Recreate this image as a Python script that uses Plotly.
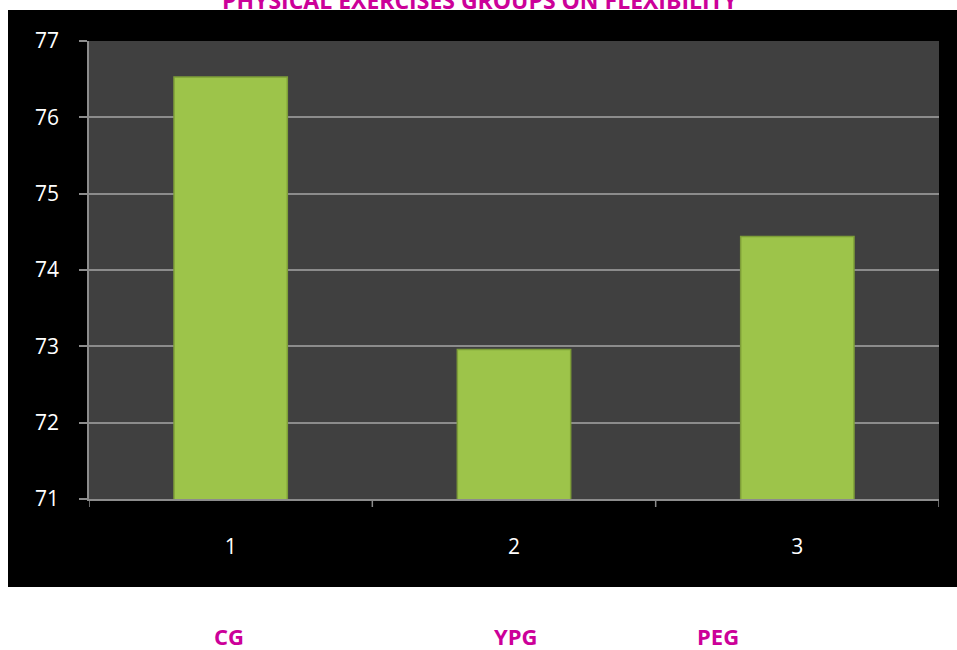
import plotly.graph_objects as go

categories = [1, 2, 3]
values = [76.53, 72.96, 74.44]
group_labels = ["CG", "YPG", "PEG"]
group_label_x = [229, 515, 718]
title_text = "PHYSICAL EXERCISES GROUPS ON FLEXIBILITY"
y_ticks = [71, 72, 73, 74, 75, 76, 77]

W, H = 957, 650
L, R, T, B = 89, 18, 41, 151
pw, ph = W - L - R, H - T - B

def px_x(x):
    return (x - L) / pw

def px_y(y):
    return (H - B - y) / ph

fig = go.Figure()
fig.add_trace(go.Bar(
    x=categories, y=values, width=0.4,
    marker=dict(color="#9DC44A", line=dict(color="#7E9E38", width=1.5)),
))

fig.add_shape(type="rect", xref="paper", yref="paper",
              x0=px_x(8), x1=px_x(957), y0=px_y(587), y1=px_y(10),
              fillcolor="black", line=dict(width=0), layer="below")
fig.add_shape(type="rect", xref="paper", yref="paper",
              x0=0, x1=1, y0=0, y1=1,
              fillcolor="#404040", line=dict(width=0), layer="below")

magenta = "#CC0099"
fig.add_annotation(text=f"<b>{title_text}</b>", xref="paper", yref="paper",
                   x=px_x(480), y=px_y(0), xanchor="center", yanchor="middle",
                   showarrow=False, font=dict(family="Open Sans", size=23, color=magenta))
for lab, gx in zip(group_labels, group_label_x):
    fig.add_annotation(text=f"<b>{lab}</b>", xref="paper", yref="paper",
                       x=px_x(gx), y=px_y(636), xanchor="center", yanchor="middle",
                       showarrow=False, font=dict(family="Open Sans", size=22, color=magenta))

axcol = "#8C8C8C"
fig.update_layout(
    width=W, height=H, margin=dict(l=L, r=R, t=T, b=B, pad=0),
    paper_bgcolor="white", plot_bgcolor="rgba(0,0,0,0)",
    showlegend=False,
    font=dict(family="Open Sans", size=21, color="white"),
    xaxis=dict(range=[0.5, 3.5], tickmode="array", tickvals=categories,
               ticktext=[str(c) for c in categories], showgrid=False,
               showline=True, linecolor=axcol, linewidth=1.5, ticks="",
               ticklabelstandoff=28, zeroline=False),
    yaxis=dict(range=[71, 77], tickmode="array", tickvals=y_ticks,
               showgrid=True, gridcolor=axcol, gridwidth=1.5,
               showline=True, linecolor=axcol, linewidth=1.5,
               ticks="outside", ticklen=8, tickcolor=axcol, tickwidth=1.5,
               ticklabelstandoff=16, zeroline=False),
)
for xb in [0.5, 1.5, 2.5, 3.5]:
    fig.add_shape(type="line", xref="x", yref="paper", x0=xb, x1=xb,
                  y0=0, y1=px_y(507), line=dict(color=axcol, width=1.5))

fig.write_html("out.html")
